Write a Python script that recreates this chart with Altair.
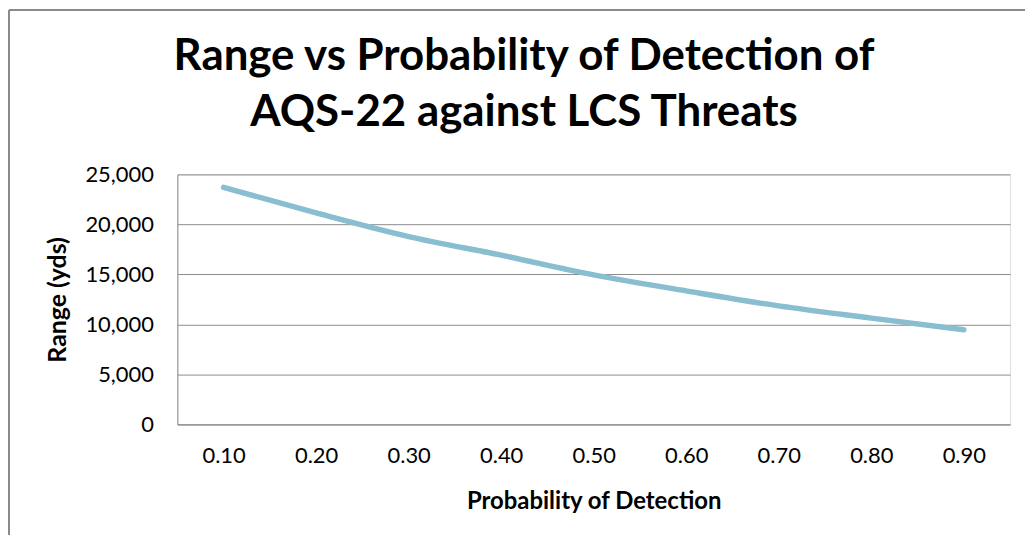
import altair as alt
import pandas as pd

# Data
prob_labels = ["0.10", "0.20", "0.30", "0.40", "0.50", "0.60", "0.70", "0.80", "0.90"]
range_yds = [23700, 21150, 18780, 16920, 14950, 13350, 11850, 10630, 9460]
y_ticks = [0, 5000, 10000, 15000, 20000, 25000]

df = pd.DataFrame({"prob": prob_labels, "range": range_yds})

FONT = "Lato"
GRID = "#8c8c8c"

line = alt.Chart(df).mark_line(
    color="#89bdd0", strokeWidth=5.5, interpolate="monotone", strokeCap="round"
).encode(
    x=alt.X(
        "prob:O",
        sort=prob_labels,
        scale=alt.Scale(padding=0.5),
        axis=alt.Axis(
            title="Probability of Detection",
            labelAngle=0,
            labelFont=FONT,
            labelFontSize=22,
            labelColor="#000000",
            labelPadding=21,
            ticks=False,
            domain=True,
            domainColor=GRID,
            domainWidth=1,
            titleFont=FONT,
            titleFontSize=24,
            titleFontWeight="bold",
            titleColor="#000000",
            titlePadding=23,
        ),
    ),
    y=alt.Y(
        "range:Q",
        scale=alt.Scale(domain=[0, 25000], nice=False),
        axis=alt.Axis(
            title="Range (yds)",
            values=y_ticks,
            format=",.0f",
            labelFont=FONT,
            labelFontSize=22,
            labelColor="#000000",
            labelPadding=24,
            ticks=False,
            domain=True,
            domainColor=GRID,
            grid=True,
            gridColor=GRID,
            gridWidth=1,
            gridOpacity=1,
            titleFont=FONT,
            titleFontSize=25,
            titleFontWeight="bold",
            titleColor="#000000",
            titlePadding=14,
        ),
    ),
)

frame_data = alt.Data(values=[{"k": 1}])
top_rule = alt.Chart(frame_data).mark_rule(color="#8a8a8a", strokeWidth=2).encode(
    x=alt.value(-169), x2=alt.value(860), y=alt.value(-165)
)
left_rule = alt.Chart(frame_data).mark_rule(color="#8a8a8a", strokeWidth=2).encode(
    x=alt.value(-169), y=alt.value(-165), y2=alt.value(400)
)

chart = alt.layer(line, top_rule, left_rule).properties(
    width=836,
    height=251,
    autosize=alt.AutoSizeParams(type="none"),
    padding={"left": 170, "top": 166, "right": 15, "bottom": 110},
    title=alt.TitleParams(
        text=["Range vs Probability of Detection of", "AQS-22 against LCS Threats"],
        font=FONT,
        fontSize=44,
        fontWeight="bold",
        color="#000000",
        anchor="middle",
        frame="group",
        dx=-70,
        dy=126,
        offset=0,
        lineHeight=56,
    ),
).configure_view(stroke=None).configure(background="white")

chart.save("out.html", embed_options={"renderer": "svg", "actions": False})
